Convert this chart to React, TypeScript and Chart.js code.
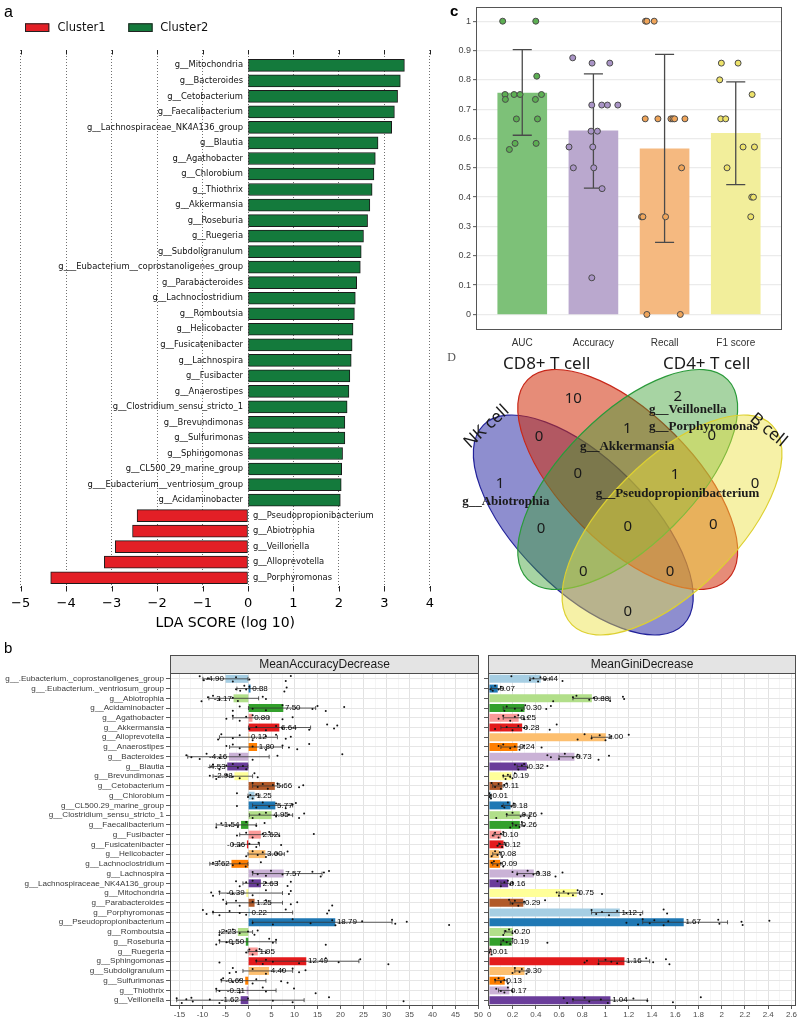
import React, { useEffect, useRef } from "react";
import { Chart, registerables } from "chart.js";

Chart.register(...registerables);

/* ======================= DATA ======================= */
// ---- Panel a : LDA scores ----
const LDA_GENERA = [
  "g__Mitochondria", "g__Bacteroides", "g__Cetobacterium", "g__Faecalibacterium",
  "g__Lachnospiraceae_NK4A136_group", "g__Blautia", "g__Agathobacter", "g__Chlorobium",
  "g__Thiothrix", "g__Akkermansia", "g__Roseburia", "g__Ruegeria", "g__Subdoligranulum",
  "g___Eubacterium__coprostanoligenes_group", "g__Parabacteroides", "g__Lachnoclostridium",
  "g__Romboutsia", "g__Helicobacter", "g__Fusicatenibacter", "g__Lachnospira", "g__Fusibacter",
  "g__Anaerostipes", "g__Clostridium_sensu_stricto_1", "g__Brevundimonas", "g__Sulfurimonas",
  "g__Sphingomonas", "g__CL500_29_marine_group", "g___Eubacterium__ventriosum_group",
  "g__Acidaminobacter", "g__Pseudopropionibacterium", "g__Abiotrophia", "g__Veillonella",
  "g__Alloprevotella", "g__Porphyromonas",
];
const LDA_SCORES = [
  3.44, 3.35, 3.29, 3.22, 3.16, 2.86, 2.8, 2.77, 2.73, 2.68, 2.63, 2.54, 2.49, 2.47, 2.39, 2.36,
  2.34, 2.31, 2.29, 2.27, 2.24, 2.22, 2.18, 2.13, 2.13, 2.08, 2.06, 2.05, 2.03,
  -2.44, -2.54, -2.92, -3.16, -4.34,
];
const LDA_TICKS = [-5, -4, -3, -2, -1, 0, 1, 2, 3, 4];
const LDA_GROUPS = ["Cluster1", "Cluster2"];

// ---- Panel c : model metrics ----
const METRICS = ["AUC", "Accuracy", "Recall", "F1 score"];
const METRIC_MEAN = [0.755, 0.626, 0.565, 0.618];
const METRIC_LOW = [0.611, 0.431, 0.246, 0.443];
const METRIC_HIGH = [0.903, 0.82, 0.887, 0.793];
const AUC_POINTS = [1, 1, 0.8125, 0.75, 0.75, 0.75, 0.75, 0.7333, 0.7333, 0.6667, 0.6667, 0.5833, 0.5833, 0.5625];
const AUC_JITTER = [-0.275, 0.19, 0.204, -0.242, -0.115, -0.031, 0.27, -0.237, 0.185, -0.082, 0.214, -0.101, 0.195, -0.181];
const ACC_POINTS = [0.875, 0.857, 0.857, 0.714, 0.714, 0.714, 0.714, 0.625, 0.625, 0.571, 0.571, 0.5, 0.5, 0.429, 0.125];
const ACC_JITTER = [-0.291, -0.019, 0.23, -0.023, 0.117, 0.197, 0.343, -0.033, 0.056, -0.343, -0.009, -0.282, 0.005, 0.122, -0.023];
const RECALL_POINTS = [1, 1, 1, 0.667, 0.667, 0.667, 0.667, 0.667, 0.667, 0.5, 0.333, 0.333, 0.333, 0, 0];
const RECALL_JITTER = [-0.268, -0.249, -0.146, -0.272, -0.094, 0.089, 0.117, 0.141, 0.286, 0.239, -0.324, -0.305, 0.014, -0.249, 0.221];
const F1_POINTS = [0.857, 0.857, 0.8, 0.75, 0.667, 0.667, 0.571, 0.571, 0.5, 0.4, 0.4, 0.333];
const F1_JITTER = [-0.202, 0.033, -0.225, 0.23, -0.211, -0.141, 0.103, 0.263, -0.122, 0.225, 0.249, 0.211];
const METRIC_TICKS = [0, 0.1, 0.2, 0.3, 0.4, 0.5, 0.6, 0.7, 0.8, 0.9, 1];

// ---- Panel D : Venn ----
const VENN_SETS = ["NK cell", "CD8+ T cell", "CD4+ T cell", "B cell"];
const VENN_REGIONS = ["NK", "CD8", "CD4", "B", "NK&CD8", "CD8&CD4", "CD4&B", "NK&CD4", "CD8&B", "NK&B",
  "NK&CD8&CD4", "CD8&CD4&B", "NK&CD8&B", "NK&CD4&B", "ALL"];
const VENN_COUNTS = [1, 10, 2, 0, 0, 1, 0, 0, 0, 0, 0, 1, 0, 0, 0];
const VENN_MEMBERS = [["g__Abiotrophia"], [], ["g__Veillonella", "g__Porphyromonas"], [], [], ["g__Akkermansia"],
  [], [], [], [], [], ["g__Pseudopropionibacterium"], [], [], []];

// ---- Panel b : random forest importance ----
const RF_GENERA = [
  "g__.Eubacterium._coprostanoligenes_group", "g__.Eubacterium._ventriosum_group", "g__Abiotrophia",
  "g__Acidaminobacter", "g__Agathobacter", "g__Akkermansia", "g__Alloprevotella", "g__Anaerostipes",
  "g__Bacteroides", "g__Blautia", "g__Brevundimonas", "g__Cetobacterium", "g__Chlorobium",
  "g__CL500.29_marine_group", "g__Clostridium_sensu_stricto_1", "g__Faecalibacterium", "g__Fusibacter",
  "g__Fusicatenibacter", "g__Helicobacter", "g__Lachnoclostridium", "g__Lachnospira",
  "g__Lachnospiraceae_NK4A136_group", "g__Mitochondria", "g__Parabacteroides", "g__Porphyromonas",
  "g__Pseudopropionibacterium", "g__Romboutsia", "g__Roseburia", "g__Ruegeria", "g__Sphingomonas",
  "g__Subdoligranulum", "g__Sulfurimonas", "g__Thiothrix", "g__Veillonella",
];
const MDA_MEAN = [-4.9, 0.38, -3.17, 7.5, 0.8, 6.64, 0.12, 1.8, -4.16, -4.53, -2.98, 5.66, 1.25, 5.77, 4.95,
  -1.54, 2.62, -0.26, 3.6, -3.62, 7.57, 2.63, -0.39, 1.25, 0.22, 18.79, -2.23, -0.5, 1.95, 12.49, 4.4,
  -0.63, -0.31, -1.62];
const MDA_LOW = [-9.9, -2.5, -8.6, 0, -3.4, 0, -6.3, -4.1, -13.2, -8.4, -7.7, 0.9, -0.1, 0.9, 0.2, -7.0, -1.9,
  -3.4, -0.1, -8.4, 0.9, -1.2, -6.3, -4.8, -7.7, 0.9, -6.3, -6.3, -0.1, 1.7, -1.2, -5.9, -7.0, -15.6];
const MDA_HIGH = [-0.1, 2.5, 2.2, 14.6, 4.5, 13.5, 6.3, 7.4, 4.5, -0.1, 0.9, 7.4, 2.5, 9.6, 9.6, 1.7, 6.7,
  2.4, 7.8, -0.1, 16.0, 6.3, 7.4, 7.4, 9.6, 31.2, 0.9, 6.0, 3.8, 24.0, 9.6, 3.8, 6.0, 12.1];
const MDA_POINTS = [
  [-10.6, -9.7, -8.8, -3.4, -2.7, 0.2, 8.1, 9.2],
  [-2.7, -1.8, -0.9, -0.5, 0.2, 7.8, 8.3],
  [-10.2, -8.8, -7.7, -6.3, -3.4, -2.3, 3.1, 3.8],
  [-3.4, -1.9, 0.9, 3.8, 7.4, 13.9, 15.0, 16.8, 20.8],
  [-4.8, -3.4, -1.9, -0.5, 0.9, 7.4, 9.6],
  [0.2, 1.7, 3.8, 6.0, 7.4, 13.2, 17.1, 18.6, 19.3],
  [-6.6, -5.9, -3.4, -1.9, 0.9, 3.8, 6.0, 8.1, 9.2],
  [-4.8, -3.4, -1.9, 0.9, 3.8, 7.4, 8.8, 10.6, 13.2],
  [-13.5, -12.4, -10.6, -9.1, -6.3, -1.9, 0.9, 6.3, 20.4],
  [-7.7, -6.3, -4.8, -3.4, -2.3, -1.2, -0.5],
  [-8.4, -7.0, -4.8, -3.4, -1.9, 1.3, 2.0],
  [0.9, 2.0, 3.1, 4.2, 5.3, 6.3, 11.0, 11.9],
  [-2.5, -0.1, 0.4, 0.9, 1.7],
  [-2.5, 1.7, 3.1, 4.5, 6.0, 8.1, 9.6, 10.3],
  [0.9, 2.4, 3.8, 6.0, 8.8, 11.0, 12.1],
  [-7.0, -5.9, -4.1, -2.3, -0.5, 1.7, 3.5],
  [-2.5, -0.5, 0.9, 3.1, 4.5, 6.7, 14.2],
  [-1.9, 0.2, 1.7, 2.2, 7.1],
  [-0.5, 0.9, 2.0, 3.1, 3.8, 6.3, 8.5],
  [-7.7, -6.3, -3.4, -1.9, -0.6, 2.7],
  [0.9, 2.0, 3.8, 4.9, 7.4, 13.9, 15.7, 16.4, 17.5],
  [-2.7, -1.9, -0.5, 0.9, 2.0, 3.8, 8.5, 9.2],
  [-8.1, -7.7, -6.3, -3.4, 0.9, 3.8, 8.8, 9.2],
  [-5.5, -4.8, -2.7, -1.9, 0.9, 3.8, 9.2, 10.6, 18.2],
  [-9.9, -9.1, -7.7, -6.3, -4.1, -1.9, -0.5, 8.1, 17.1, 17.5],
  [0.9, 5.3, 9.6, 13.5, 18.2, 18.9, 24.7, 31.2, 31.9, 34.4, 43.6],
  [-6.3, -4.8, -3.4, -1.9, -0.1, 1.3, 2.0],
  [-7.0, -6.3, -4.8, -3.4, 4.5, 5.3, 6.0, 16.8],
  [-0.5, 0.2, 0.9, 1.7, 2.4, 3.8],
  [-6.3, 1.7, 3.1, 3.8, 5.3, 11.0, 16.8, 19.6, 24.3, 30.4],
  [-4.1, -3.4, -2.7, 0.9, 3.8, 7.4, 9.6, 11.0, 12.4],
  [-5.9, -5.5, -3.4, -1.9, 0.9, 1.7, 7.1, 8.5],
  [-7.0, -6.3, -1.9, 3.1, 3.8, 9.9, 14.6],
  [-15.6, -14.5, -13.5, -12.4, -12.1, -8.4, -6.3, -0.1, 5.3, 9.6, 17.5, 33.7],
];
const GINI_MEAN = [0.44, 0.07, 0.88, 0.3, 0.25, 0.28, 1.0, 0.24, 0.73, 0.32, 0.19, 0.11, 0.01, 0.18, 0.26, 0.26,
  0.1, 0.12, 0.08, 0.09, 0.38, 0.16, 0.75, 0.29, 1.12, 1.67, 0.2, 0.19, 0.01, 1.16, 0.3, 0.13, 0.17, 1.04];
const GINI_LOW = [0.35, 0.02, 0.72, 0.12, 0.12, 0.1, 0.88, 0.1, 0.6, 0.24, 0.12, 0.03, 0.0, 0.12, 0.15, 0.2,
  0.04, 0.08, 0.03, 0.03, 0.24, 0.1, 0.6, 0.18, 0.88, 1.32, 0.13, 0.1, 0.0, 0.94, 0.22, 0.05, 0.08, 0.72];
const GINI_HIGH = [0.52, 0.12, 1.04, 0.3, 0.3, 0.32, 1.05, 0.3, 0.78, 0.33, 0.18, 0.12, 0.02, 0.22, 0.35, 0.28,
  0.12, 0.14, 0.1, 0.1, 0.43, 0.2, 0.78, 0.3, 1.32, 2.05, 0.2, 0.2, 0.02, 1.38, 0.34, 0.15, 0.2, 1.36];
const GINI_POINTS = [
  [0.19, 0.35, 0.38, 0.42, 0.44, 0.48, 0.63],
  [0.01, 0.03, 0.05, 0.08, 0.1],
  [0.55, 0.72, 0.75, 0.86, 0.9, 1.04, 1.15, 1.16],
  [0.13, 0.15, 0.22, 0.28, 0.31, 0.49, 0.53],
  [0.08, 0.12, 0.18, 0.22, 0.25, 0.3, 0.33],
  [0.05, 0.15, 0.2, 0.25, 0.3, 0.52, 0.58],
  [0.76, 0.82, 0.88, 0.95, 1.0, 1.05, 1.2],
  [0.08, 0.12, 0.18, 0.22, 0.26, 0.3, 0.45],
  [0.5, 0.53, 0.6, 0.65, 0.72, 0.76, 0.94, 1.03],
  [0.22, 0.25, 0.28, 0.3, 0.33, 0.5],
  [0.12, 0.14, 0.16, 0.18, 0.2, 0.22],
  [0.02, 0.05, 0.08, 0.1, 0.13, 0.15],
  [0.0, 0.005, 0.01, 0.015],
  [0.11, 0.13, 0.16, 0.19, 0.21],
  [0.06, 0.15, 0.2, 0.27, 0.3, 0.34, 0.45],
  [0.18, 0.2, 0.23, 0.26, 0.28, 0.3],
  [0.03, 0.05, 0.08, 0.1, 0.12],
  [0.07, 0.09, 0.11, 0.13, 0.14],
  [0.02, 0.05, 0.07, 0.09, 0.11],
  [0.02, 0.04, 0.07, 0.1, 0.12],
  [0.2, 0.24, 0.3, 0.33, 0.38, 0.42, 0.57, 0.63],
  [0.07, 0.1, 0.13, 0.16, 0.18, 0.2],
  [0.58, 0.6, 0.64, 0.68, 0.72, 0.76, 0.97],
  [0.17, 0.2, 0.22, 0.25, 0.3, 0.48],
  [0.88, 0.92, 0.97, 1.03, 1.1, 1.18, 1.3, 1.5, 1.53],
  [1.18, 1.28, 1.32, 1.38, 1.42, 1.5, 1.54, 1.97, 1.98, 2.17, 2.18, 2.41],
  [0.12, 0.14, 0.17, 0.2, 0.22],
  [0.1, 0.12, 0.15, 0.18, 0.2, 0.5],
  [0.0, 0.01, 0.02],
  [0.82, 0.84, 0.94, 1.0, 1.05, 1.1, 1.35, 1.41, 1.52, 1.55],
  [0.2, 0.22, 0.26, 0.28, 0.32],
  [0.05, 0.08, 0.1, 0.13, 0.16],
  [0.06, 0.1, 0.13, 0.16, 0.2],
  [0.64, 0.67, 0.72, 0.82, 0.86, 0.96, 1.02, 1.24, 1.36, 1.58, 1.82],
];
const MDA_MAJOR = [-15, -10, -5, 0, 5, 10, 15, 20, 25, 30, 35, 40, 45, 50];
const MDA_MINOR = [-12.5, -7.5, -2.5, 2.5, 7.5, 12.5, 17.5, 22.5, 27.5, 32.5, 37.5, 42.5, 47.5];
const GINI_MAJOR = [0, 0.2, 0.4, 0.6, 0.8, 1, 1.2, 1.4, 1.6, 1.8, 2, 2.2, 2.4, 2.6];
const GINI_MINOR = [0.1, 0.3, 0.5, 0.7, 0.9, 1.1, 1.3, 1.5, 1.7, 1.9, 2.1, 2.3, 2.5];

/* ======================= STYLE / LAYOUT ======================= */
const SANS = '"Liberation Sans", Arial, sans-serif';
const DEJAVU = '"DejaVu Sans", sans-serif';
const NOTO = '"Noto Sans", "Open Sans", sans-serif';
const SERIF = '"Liberation Serif", "Times New Roman", serif';
const GREEN = "#147A3C";
const RED = "#E31F26";
const PAIRED = ["#A6CEE3", "#1F78B4", "#B2DF8A", "#33A02C", "#FB9A99", "#E31A1C", "#FDBF6F", "#FF7F00",
  "#CAB2D6", "#6A3D9A", "#FFFF99", "#B15928"];
const METRIC_BAR = ["#7DC178", "#BAA8CE", "#F5B980", "#F2EE9B"];
const METRIC_DOT = ["#5CAF52", "#A994C6", "#F0A55A", "#EDE26A"];
const JIT = [-0.26, 0.14, -0.06, 0.28, -0.16, 0.06, 0.22, -0.3, 0.1, -0.2, 0.3, -0.1];

// Venn geometry, local to the Venn canvas (pixels)
const VENN_SHAPES = [
  { cx: 143.3, cy: 180, rot: 45, fill: "rgba(30,30,160,0.5)", edge: "#22229a" },
  { cx: 187.7, cy: 134.5, rot: 45, fill: "rgba(210,45,10,0.55)", edge: "#c8281a" },
  { cx: 187.7, cy: 134.5, rot: -45, fill: "rgba(60,160,50,0.45)", edge: "#2a9a3a" },
  { cx: 232, cy: 180, rot: -45, fill: "rgba(235,225,60,0.45)", edge: "#ddd030" },
];
const VENN_A = 141.3;
const VENN_B = 65;
const VENN_LABEL_POS = [[60, 139], [133.3, 53.3], [237.7, 51.7], [315, 139], [99, 91.7], [187.3, 83.3],
  [271.7, 91], [101, 183.3], [273.3, 180], [187.7, 266.7], [137.7, 128.3], [235, 130], [230, 226.7],
  [143.3, 226.7], [187.7, 181.7]];
const VENN_MEMBER_POS: any = {
  0: { align: "center", pts: [[65.8, 156.7]] },
  2: { align: "left", pts: [[209, 65], [209, 81.7]] },
  5: { align: "center", pts: [[187.2, 101.7]] },
  11: { align: "center", pts: [[237.5, 148.3]] },
};
const VENN_SET_POS = [
  { x: 46.7, y: 81.7, rot: -43 },
  { x: 106.7, y: 19.3, rot: 0 },
  { x: 266.7, y: 19.3, rot: 0 },
  { x: 328.3, y: 85, rot: 40 },
];

const BASE: any = {
  responsive: false,
  maintainAspectRatio: false,
  animation: false,
  events: [],
  plugins: { legend: { display: false }, tooltip: { enabled: false } },
};

/* ======================= PANEL a ======================= */
const ldaPlugin = {
  id: "ldaDecor",
  afterDatasetsDraw(chart: any) {
    const { ctx, chartArea, scales } = chart;
    const x = scales.x;
    const y = scales.y;
    const x0 = x.getPixelForValue(0);
    ctx.save();
    ctx.font = `8.4px ${DEJAVU}`;
    ctx.fillStyle = "#111";
    ctx.textBaseline = "middle";
    LDA_GENERA.forEach((g, i) => {
      const py = y.getPixelForValue(i);
      if (LDA_SCORES[i] >= 0) {
        ctx.textAlign = "right";
        ctx.fillText(g, x0 - 5, py);
      } else {
        ctx.textAlign = "left";
        ctx.fillText(g, x0 + 5, py);
      }
    });
    ctx.strokeStyle = "#222";
    ctx.lineWidth = 1;
    ctx.beginPath();
    LDA_TICKS.forEach((t) => {
      const px = Math.round(x.getPixelForValue(t)) + 0.5;
      ctx.moveTo(px, chartArea.top);
      ctx.lineTo(px, chartArea.top + 4.5);
      ctx.moveTo(px, chartArea.bottom - 4);
      ctx.lineTo(px, chartArea.bottom + 1.5);
    });
    ctx.stroke();
    // legend
    const items = [
      { label: LDA_GROUPS[0], color: RED, bx: 25, tx: 57.5 },
      { label: LDA_GROUPS[1], color: GREEN, bx: 128.3, tx: 160.3 },
    ];
    ctx.font = `11.5px ${DEJAVU}`;
    ctx.textAlign = "left";
    items.forEach((it) => {
      ctx.fillStyle = it.color;
      ctx.fillRect(it.bx, 23.3, 24.3, 8.7);
      ctx.strokeStyle = "#222";
      ctx.strokeRect(it.bx + 0.5, 23.8, 23.3, 7.7);
      ctx.fillStyle = "#111";
      ctx.fillText(it.label, it.tx, 28);
    });
    ctx.font = `16px ${SANS}`;
    ctx.textBaseline = "alphabetic";
    ctx.fillStyle = "#000";
    ctx.fillText("a", 4, 16.7);
    ctx.restore();
  },
};

function buildLda() {
  const pos: any[] = [];
  const neg: any[] = [];
  LDA_SCORES.forEach((v, i) => (v >= 0 ? pos : neg).push({ x: v, y: i }));
  const ds = (label: string, data: any[], color: string) => ({
    label, data, backgroundColor: color, borderColor: "#1b1b1b", borderWidth: 1,
    barThickness: 12, grouped: false, borderSkipped: false,
  });
  return {
    type: "bar",
    data: { datasets: [ds(LDA_GROUPS[1], pos, GREEN), ds(LDA_GROUPS[0], neg, RED)] },
    options: {
      ...BASE,
      indexAxis: "y",
      layout: { padding: { left: 20.7, right: 9, top: 50, bottom: 0 } },
      scales: {
        x: {
          type: "linear", min: -5, max: 4, offset: false,
          afterBuildTicks: (s: any) => { s.ticks = LDA_TICKS.map((v) => ({ value: v })); },
          afterFit: (s: any) => { s.height = 50; },
          ticks: {
            autoSkip: false, maxRotation: 0, padding: 6, color: "#000",
            font: { family: DEJAVU, size: 13 },
            callback: (v: number) => (v < 0 ? "\u2212" + Math.abs(v) : String(v)),
          },
          grid: { color: "#707070", lineWidth: 1, drawTicks: false },
          border: { display: false, dash: [1, 2] },
          title: {
            display: true, text: "LDA SCORE (log 10)", color: "#000",
            font: { family: DEJAVU, size: 14 }, padding: { top: 0, bottom: 8 },
          },
        },
        y: { type: "linear", min: -0.985, max: 33.79, reverse: true, display: false, offset: false },
      },
    },
    plugins: [ldaPlugin],
  };
}

/* ======================= PANEL c ======================= */
const metricPlugin = {
  id: "metricDecor",
  afterDatasetDraw(chart: any, args: any) {
    if (args.index !== 0) return;
    const { ctx, scales: { x, y } } = chart;
    ctx.save();
    ctx.strokeStyle = "#4a4a4a";
    ctx.lineWidth = 1.3;
    ctx.beginPath();
    METRICS.forEach((_, i) => {
      const px = x.getPixelForValue(i);
      const lo = y.getPixelForValue(METRIC_LOW[i]);
      const hi = y.getPixelForValue(METRIC_HIGH[i]);
      const w = x.getPixelForValue(i + 0.134) - px;
      ctx.moveTo(px, lo); ctx.lineTo(px, hi);
      ctx.moveTo(px - w, lo); ctx.lineTo(px + w, lo);
      ctx.moveTo(px - w, hi); ctx.lineTo(px + w, hi);
    });
    ctx.stroke();
    ctx.restore();
  },
  afterDraw(chart: any) {
    const { ctx, chartArea: a } = chart;
    ctx.save();
    ctx.strokeStyle = "#555";
    ctx.lineWidth = 1;
    ctx.strokeRect(Math.round(a.left) + 0.5, Math.round(a.top) + 0.5, Math.round(a.right - a.left) - 1, Math.round(a.bottom - a.top) - 1);
    ctx.font = `bold 15px ${SANS}`;
    ctx.fillStyle = "#000";
    ctx.textAlign = "left";
    ctx.fillText("c", 20, 16);
    ctx.restore();
  },
};

function buildMetrics() {
  const groups = [
    [AUC_POINTS, AUC_JITTER], [ACC_POINTS, ACC_JITTER], [RECALL_POINTS, RECALL_JITTER], [F1_POINTS, F1_JITTER],
  ];
  const dots = groups.map(([vals, jit], i) => ({
    type: "scatter",
    data: vals.map((v, k) => ({ x: i + jit[k], y: v })),
    pointRadius: 3, pointBackgroundColor: METRIC_DOT[i], pointBorderColor: "#4a4a4a",
    pointBorderWidth: 1, order: 1,
  }));
  return {
    type: "bar",
    data: {
      datasets: [
        {
          data: METRIC_MEAN.map((v, i) => ({ x: i, y: v })), backgroundColor: METRIC_BAR,
          barThickness: 49, grouped: false, order: 2,
        },
        ...dots,
      ],
    },
    options: {
      ...BASE,
      layout: { padding: { left: 0, right: 18, top: 2, bottom: 0 } },
      scales: {
        x: {
          type: "linear", min: -0.65, max: 3.65, offset: false,
          afterBuildTicks: (s: any) => { s.ticks = METRICS.map((_, i) => ({ value: i })); },
          afterFit: (s: any) => { s.height = 26; },
          ticks: {
            autoSkip: false, maxRotation: 0, padding: 7, color: "#333",
            font: { family: SANS, size: 10 }, callback: (v: number) => METRICS[v],
          },
          grid: { display: false, drawTicks: false, offset: false },
          border: { display: false },
        },
        y: {
          type: "linear", min: -0.053, max: 1.047, offset: false,
          afterBuildTicks: (s: any) => { s.ticks = METRIC_TICKS.map((v) => ({ value: v })); },
          afterFit: (s: any) => { s.width = 46; },
          ticks: {
            autoSkip: false, padding: 2, color: "#444", font: { family: SANS, size: 9 },
            callback: (v: number) => String(Math.round(v * 10) / 10),
          },
          grid: { color: "#EBEBEB", lineWidth: 1.3, tickLength: 3, tickColor: "#555", tickWidth: 1 },
          border: { display: false },
        },
      },
    },
    plugins: [metricPlugin],
  };
}

/* ======================= PANEL D (Venn) ======================= */
const vennPlugin = {
  id: "venn",
  beforeDatasetsDraw(chart: any) {
    const { ctx, scales: { x, y } } = chart;
    const k = x.getPixelForValue(1) - x.getPixelForValue(0);
    ctx.save();
    VENN_SHAPES.forEach((s) => {
      ctx.beginPath();
      ctx.ellipse(x.getPixelForValue(s.cx), y.getPixelForValue(s.cy), VENN_A * k, VENN_B * k, (s.rot * Math.PI) / 180, 0, Math.PI * 2);
      ctx.fillStyle = s.fill;
      ctx.fill();
      ctx.strokeStyle = s.edge;
      ctx.lineWidth = 1.2;
      ctx.stroke();
    });
    ctx.restore();
  },
  afterDatasetsDraw(chart: any) {
    const { ctx, scales: { x, y } } = chart;
    const meta = chart.getDatasetMeta(0);
    ctx.save();
    ctx.fillStyle = "#1a1a1a";
    ctx.textBaseline = "middle";
    ctx.textAlign = "center";
    ctx.font = `15px ${NOTO}`;
    meta.data.forEach((pt: any, i: number) => {
      ctx.fillText(String(VENN_COUNTS[i]), pt.x, pt.y);
    });
    ctx.font = `bold 13px ${SERIF}`;
    VENN_MEMBERS.forEach((names, i) => {
      const lay = VENN_MEMBER_POS[i];
      if (!lay) return;
      ctx.textAlign = lay.align;
      names.forEach((n, j) => {
        const [px, py] = lay.pts[j];
        ctx.fillText(n, x.getPixelForValue(px), y.getPixelForValue(py));
      });
    });
    ctx.font = `17px ${NOTO}`;
    ctx.textAlign = "center";
    VENN_SETS.forEach((name, i) => {
      const p = VENN_SET_POS[i];
      ctx.save();
      ctx.translate(x.getPixelForValue(p.x), y.getPixelForValue(p.y));
      ctx.rotate((p.rot * Math.PI) / 180);
      ctx.fillText(name, 0, 0);
      ctx.restore();
    });
    ctx.font = `12px ${SERIF}`;
    ctx.fillStyle = "#555";
    ctx.textAlign = "left";
    ctx.textBaseline = "alphabetic";
    ctx.fillText("D", 7.3, 15.7);
    ctx.restore();
  },
};

function buildVenn() {
  return {
    type: "scatter",
    data: {
      labels: VENN_REGIONS,
      datasets: [{ data: VENN_LABEL_POS.map(([px, py]) => ({ x: px, y: py })), pointRadius: 0 }],
    },
    options: {
      ...BASE,
      layout: { padding: 0 },
      scales: {
        x: { type: "linear", min: 0, max: 360, display: false, offset: false },
        y: { type: "linear", min: 0, max: 305, reverse: true, display: false, offset: false },
      },
    },
    plugins: [vennPlugin],
  };
}

/* ======================= PANEL b ======================= */
function rfPlugin(cfg: any) {
  return {
    id: "rf" + cfg.key,
    afterDatasetDraw(chart: any, args: any) {
      if (args.index !== 0) return;
      const { ctx, scales: { x, y } } = chart;
      ctx.save();
      ctx.strokeStyle = "#333";
      ctx.lineWidth = 0.8;
      ctx.beginPath();
      RF_GENERA.forEach((_, i) => {
        const py = y.getPixelForValue(i);
        const xl = x.getPixelForValue(cfg.low[i]);
        const xh = x.getPixelForValue(cfg.high[i]);
        ctx.moveTo(xl, py); ctx.lineTo(xh, py);
        ctx.moveTo(xl, py - 2); ctx.lineTo(xl, py + 2);
        ctx.moveTo(xh, py - 2); ctx.lineTo(xh, py + 2);
      });
      ctx.stroke();
      ctx.restore();
    },
    afterDatasetsDraw(chart: any) {
      const { ctx, scales: { x, y } } = chart;
      ctx.save();
      ctx.font = `8px ${SANS}`;
      ctx.fillStyle = "#000";
      ctx.textBaseline = "middle";
      cfg.mean.forEach((m: number, i: number) => {
        const px = x.getPixelForValue(m);
        const py = y.getPixelForValue(i);
        if (m >= 0) { ctx.textAlign = "left"; ctx.fillText(m.toFixed(2), px + 2, py); }
        else { ctx.textAlign = "right"; ctx.fillText(m.toFixed(2), px - 2, py); }
      });
      ctx.restore();
    },
    afterDraw(chart: any) {
      const { ctx, chartArea: a } = chart;
      const L = Math.round(a.left) + 0.5;
      const T = Math.round(a.top) + 0.5;
      const W = Math.round(a.right - a.left) - 1;
      const H = Math.round(a.bottom - a.top) - 1;
      ctx.save();
      ctx.strokeStyle = "#4D4D4D";
      ctx.lineWidth = 1;
      ctx.strokeRect(L, T, W, H);
      ctx.fillStyle = "#E4E4E4";
      ctx.fillRect(L, 15.5, W, T - 15.5);
      ctx.strokeRect(L, 15.5, W, T - 15.5);
      ctx.fillStyle = "#1a1a1a";
      ctx.font = `12px ${SANS}`;
      ctx.textAlign = "center";
      ctx.textBaseline = "middle";
      ctx.fillText(cfg.strip, (a.left + a.right) / 2, (15.5 + a.top) / 2 + 0.5);
      if (cfg.letter) {
        ctx.font = `15px ${SANS}`;
        ctx.textAlign = "left";
        ctx.textBaseline = "alphabetic";
        ctx.fillStyle = "#000";
        ctx.fillText(cfg.letter, 4, 13.3);
      }
      ctx.restore();
    },
  };
}

function buildRf(cfg: any) {
  const majorSet = new Set(cfg.major);
  const allTicks = [...cfg.major, ...cfg.minor].sort((a: number, b: number) => a - b);
  const pts: any[] = [];
  cfg.points.forEach((arr: number[], i: number) => {
    arr.forEach((v, k) => pts.push({ x: v, y: i + JIT[(k + i * 5) % JIT.length] }));
  });
  return {
    type: "bar",
    data: {
      datasets: [
        {
          indexAxis: "y",
          data: cfg.mean.map((v: number, i: number) => ({ x: v, y: i })),
          backgroundColor: RF_GENERA.map((_, i) => PAIRED[i % PAIRED.length]),
          barThickness: 7.3, grouped: false, order: 2,
        },
        {
          type: "scatter", data: pts, pointRadius: 1, pointBackgroundColor: "#111",
          pointBorderWidth: 0, order: 1,
        },
      ],
    },
    options: {
      ...BASE,
      layout: { padding: { left: 0, right: cfg.padRight, top: 33, bottom: 0 } },
      scales: {
        x: {
          type: "linear", min: cfg.min, max: cfg.max, offset: false,
          afterBuildTicks: (s: any) => { s.ticks = allTicks.map((v: number) => ({ value: v })); },
          afterFit: (s: any) => { s.height = 13; },
          ticks: {
            autoSkip: false, maxRotation: 0, padding: 1, color: "#4D4D4D",
            font: { family: SANS, size: 8 },
            callback: (v: number) => (majorSet.has(v) ? cfg.fmt(v) : ""),
          },
          grid: {
            offset: false,
            color: (c: any) => (majorSet.has(c.tick && c.tick.value) ? "#E2E2E2" : "#F0F0F0"),
            lineWidth: (c: any) => (majorSet.has(c.tick && c.tick.value) ? 1 : 0.7),
            tickLength: 3,
            tickColor: (c: any) => (majorSet.has(c.tick && c.tick.value) ? "#333" : "rgba(0,0,0,0)"),
            tickWidth: 0.8,
          },
          border: { display: false },
        },
        y: {
          type: "linear", min: -0.6, max: 33.6, reverse: true, offset: false,
          afterBuildTicks: (s: any) => { s.ticks = RF_GENERA.map((_, i) => ({ value: i })); },
          afterFit: (s: any) => { s.width = cfg.yWidth; },
          ticks: {
            autoSkip: false, padding: 2, color: "#3A3A3A", font: { family: SANS, size: 8.1 },
            callback: (v: number) => (cfg.showNames ? RF_GENERA[v] : ""),
          },
          grid: { offset: false, color: "#E6E6E6", lineWidth: 1, tickLength: 4, tickColor: "#333", tickWidth: 0.8 },
          border: { display: false },
        },
      },
    },
    plugins: [rfPlugin(cfg)],
  };
}

const MDA_CFG = {
  key: "mda", strip: "MeanAccuracyDecrease", letter: "b", mean: MDA_MEAN, low: MDA_LOW, high: MDA_HIGH,
  points: MDA_POINTS, min: -17.05, max: 50.1, major: MDA_MAJOR, minor: MDA_MINOR, yWidth: 170,
  padRight: 3, showNames: true, fmt: (v: number) => String(v),
};
const GINI_CFG = {
  key: "gini", strip: "MeanGiniDecrease", letter: "", mean: GINI_MEAN, low: GINI_LOW, high: GINI_HIGH,
  points: GINI_POINTS, min: -0.011, max: 2.639, major: GINI_MAJOR, minor: GINI_MINOR, yWidth: 6,
  padRight: 3.3, showNames: false, fmt: (v: number) => String(Math.round(v * 10) / 10),
};

/* ======================= COMPONENTS ======================= */
function ChartCanvas({ left, top, width, height, build }: any) {
  const ref = useRef<HTMLCanvasElement | null>(null);
  useEffect(() => {
    if (!ref.current) return;
    const chart = new Chart(ref.current, build());
    return () => chart.destroy();
  }, []);
  return (
    <canvas
      ref={ref}
      width={width}
      height={height}
      style={{ position: "absolute", left, top, width, height }}
    />
  );
}

export default function App() {
  return (
    <div style={{ position: "absolute", left: 0, top: 0, width: 800, height: 1019, background: "#fff", overflow: "hidden" }}>
      <ChartCanvas left={0} top={0} width={440} height={640} build={buildLda} />
      <ChartCanvas left={440} top={345} width={360} height={305} build={buildVenn} />
      <ChartCanvas left={430} top={0} width={370} height={356} build={buildMetrics} />
      <ChartCanvas left={0} top={640} width={484} height={379} build={() => buildRf(MDA_CFG)} />
      <ChartCanvas left={482} top={640} width={318} height={379} build={() => buildRf(GINI_CFG)} />
    </div>
  );
}
